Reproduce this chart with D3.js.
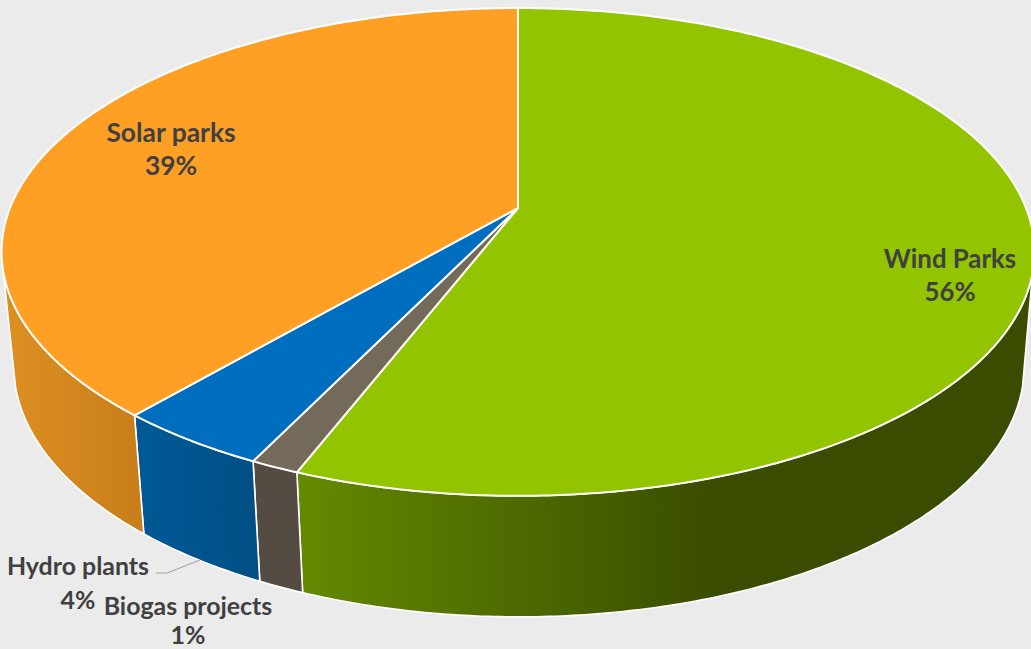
<!DOCTYPE html>
<html>
<head>
<meta charset="utf-8">
<script src="https://cdn.jsdelivr.net/npm/d3@7"></script>
<style>
html, body { margin: 0; padding: 0; background: #EBEBEB; overflow: hidden; }
svg { display: block; }
text { font-family: Lato, "Open Sans", sans-serif; font-weight: 700; fill: #404040; text-anchor: middle; }
</style>
</head>
<body>
<svg id="chart" width="1031" height="649"></svg>
<script>
const categories = ["Wind Parks", "Biogas projects", "Hydro plants", "Solar parks"];
const shares = [55.9, 1.3, 4.1, 38.7];
const topColors = ["#92C400", "#736A5A", "#006EBF", "#FF9F23"];
const wallStops = [
  [[0, "#648A00"], [0.57, "#3A4C00"], [1, "#3A4C00"]],
  [[0, "#544C42"], [1, "#544C42"]],
  [[0, "#005A96"], [1, "#004F85"]],
  [[0, "#DC9021"], [1, "#C97D1A"]]
];
const labelAnchors = [[950, 268, 301], [188, 615, 644], [78, 575, 609], [171, 142, 175]];
const labelSizes = [25.8, 24.9, 24.9, 26.4];

// Perspective disc: maps a clockwise angle from twelve o'clock onto the tilted plane.
const tilt = 0.18;
const discTop = { cx: 518, cy: 208, rx: 508, ry: 236 };
const discBottom = { cx: 519, cy: 320.5, rx: 497, ry: 243 };
function project(disc, a) {
  const u = Math.sin(a), v = Math.cos(a), w = 1 + tilt * v;
  return [disc.cx + disc.rx * u / w, disc.cy - disc.ry * v / w];
}
function arcPoints(disc, a0, a1) {
  const n = Math.max(2, Math.ceil(Math.abs(a1 - a0) / 0.01));
  return d3.range(n + 1).map(i => project(disc, a0 + (a1 - a0) * i / n));
}

const svg = d3.select("#chart");
const defs = svg.append("defs");
const line = d3.line();
const pie = d3.pie().sort(null).value(d => d);
const slices = pie(shares);

// Walls are only visible between the silhouette angles, where the rim turns away.
const wallFrom = 105 * Math.PI / 180;
const wallTo = 255 * Math.PI / 180;

const wallLayer = svg.append("g");
slices.forEach((s, i) => {
  const a0 = Math.max(s.startAngle, wallFrom);
  const a1 = Math.min(s.endAngle, wallTo);
  if (a1 <= a0) return;
  const pts = arcPoints(discTop, a0, a1).concat(arcPoints(discBottom, a1, a0));
  const xs = d3.extent(pts, p => p[0]);
  const grad = defs.append("linearGradient")
    .attr("id", "wall" + i)
    .attr("gradientUnits", "userSpaceOnUse")
    .attr("x1", xs[0]).attr("x2", xs[1]).attr("y1", 0).attr("y2", 0);
  // Shading runs left to right in screen space across each wall
  grad.selectAll("stop").data(wallStops[i]).join("stop")
    .attr("offset", d => d[0])
    .attr("stop-color", d => d[1]);
  wallLayer.append("path")
    .attr("d", line(pts) + "Z")
    .attr("fill", `url(#wall${i})`)
    .attr("stroke", "#FFFFFF")
    .attr("stroke-width", 1.6)
    .attr("stroke-linejoin", "round");
});

// Upper face of each slice, from the hub out to the rim
const topLayer = svg.append("g");
slices.forEach((s, i) => {
  const rim = arcPoints(discTop, s.startAngle, s.endAngle);
  const centre = [discTop.cx, discTop.cy];
  topLayer.append("path")
    .attr("d", line([centre].concat(rim)) + "Z")
    .attr("fill", topColors[i])
    .attr("stroke", "#FFFFFF")
    .attr("stroke-width", 2)
    .attr("stroke-linejoin", "round");
});

// Leader from the hydro label to its wall
svg.append("path")
  .attr("d", line([[156, 573], [167, 573], [200, 560]]))
  .attr("fill", "none")
  .attr("stroke", "#A6A6A6")
  .attr("stroke-width", 1.2);

const labels = svg.append("g");
categories.forEach((name, i) => {
  const [x, y1, y2] = labelAnchors[i];
  labels.append("text").attr("x", x).attr("y", y1).attr("font-size", labelSizes[i]).text(name);
  labels.append("text").attr("x", x).attr("y", y2).attr("font-size", labelSizes[i]).text(d3.format(".0f")(shares[i]) + "%");
});
</script>
</body>
</html>
